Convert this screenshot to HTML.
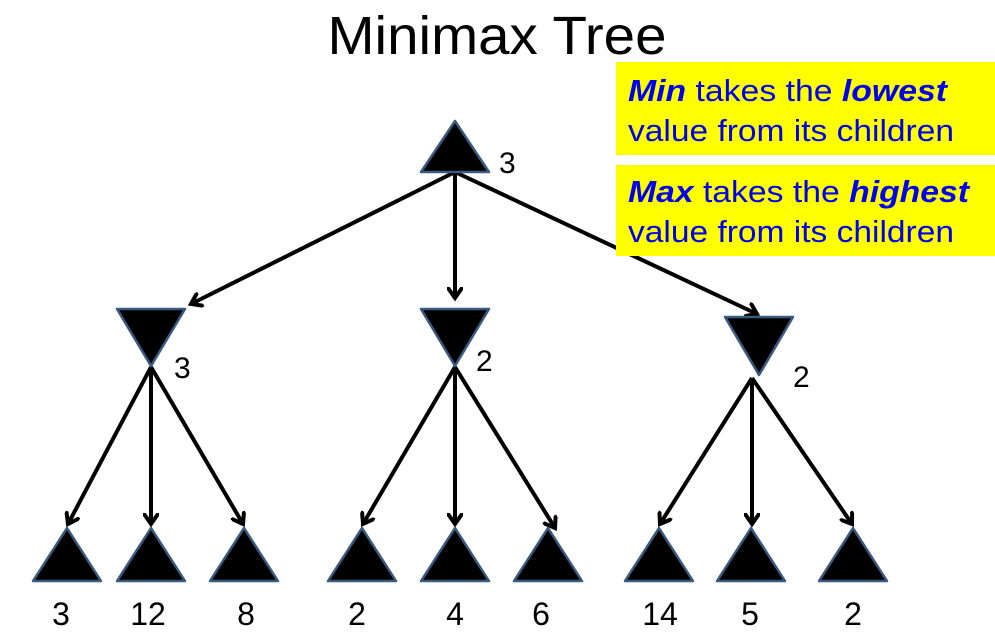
<!DOCTYPE html>
<html><head><meta charset="utf-8"><style>
body{margin:0;background:#fff;}
svg{display:block;font-family:"Liberation Sans",Arial,sans-serif;}
</style></head><body>
<svg width="995" height="636" viewBox="0 0 995 636">
<defs>
<marker id="a" markerWidth="16" markerHeight="16" refX="11" refY="8" orient="auto" markerUnits="userSpaceOnUse">
<path d="M1,1 L11,8 L1,15" fill="none" stroke="#000" stroke-width="4" stroke-linecap="round"/>
</marker>
</defs>
<text x="497" y="54" font-size="54" text-anchor="middle" fill="#000" textLength="339" lengthAdjust="spacingAndGlyphs">Minimax Tree</text>
<g stroke="#000" stroke-width="4" marker-end="url(#a)">
<line x1="455" y1="172" x2="191" y2="304"/>
<line x1="455" y1="172" x2="455" y2="298"/>
<line x1="455" y1="172" x2="757" y2="314"/>
<line x1="151" y1="367" x2="68" y2="524"/>
<line x1="151" y1="367" x2="151" y2="524"/>
<line x1="151" y1="367" x2="243" y2="524"/>
<line x1="455" y1="367" x2="363" y2="524"/>
<line x1="455" y1="367" x2="455" y2="524"/>
<line x1="455" y1="367" x2="555" y2="528"/>
<line x1="752" y1="378" x2="660" y2="524"/>
<line x1="752" y1="378" x2="752" y2="524"/>
<line x1="752" y1="378" x2="852" y2="524"/>
</g>
<rect x="616" y="62" width="379" height="93" fill="#ffff00"/>
<rect x="616" y="165" width="379" height="91" fill="#ffff00"/>
<g font-size="31" fill="#0000ee">
<text x="628" y="101" textLength="319" lengthAdjust="spacingAndGlyphs"><tspan font-weight="bold" font-style="italic">Min</tspan> takes the <tspan font-weight="bold" font-style="italic">lowest</tspan></text>
<text x="628" y="141" textLength="326" lengthAdjust="spacingAndGlyphs">value from its children</text>
<text x="628" y="202" textLength="341" lengthAdjust="spacingAndGlyphs"><tspan font-weight="bold" font-style="italic">Max</tspan> takes the <tspan font-weight="bold" font-style="italic">highest</tspan></text>
<text x="628" y="242" textLength="326" lengthAdjust="spacingAndGlyphs">value from its children</text>
</g>
<g fill="#000" stroke="#3a5a80" stroke-width="2.5" stroke-linejoin="round">
<polygon points="455,121 489,172 421,172"/>
<polygon points="117,309 185,309 151,366"/>
<polygon points="421,309 489,309 455,366"/>
<polygon points="725,317 793,317 759,375"/>
<polygon points="67,528 101,581 33,581"/>
<polygon points="151,528 185,581 117,581"/>
<polygon points="244,528 278,581 210,581"/>
<polygon points="362,528 396,581 328,581"/>
<polygon points="455,528 489,581 421,581"/>
<polygon points="548,528 582,581 514,581"/>
<polygon points="659,528 693,581 625,581"/>
<polygon points="751,528 785,581 717,581"/>
<polygon points="853,528 887,581 819,581"/>
</g>
<g font-size="30" fill="#000">
<text x="499" y="173">3</text>
<text x="174" y="378">3</text>
<text x="476" y="371">2</text>
<text x="793" y="387">2</text>
</g>
<g font-size="32" fill="#000" text-anchor="middle">
<text x="61" y="625">3</text>
<text x="148" y="625">12</text>
<text x="246" y="625">8</text>
<text x="357" y="625">2</text>
<text x="455" y="625">4</text>
<text x="541" y="625">6</text>
<text x="660" y="625">14</text>
<text x="750" y="625">5</text>
<text x="853" y="625">2</text>
</g>
</svg>
</body></html>
